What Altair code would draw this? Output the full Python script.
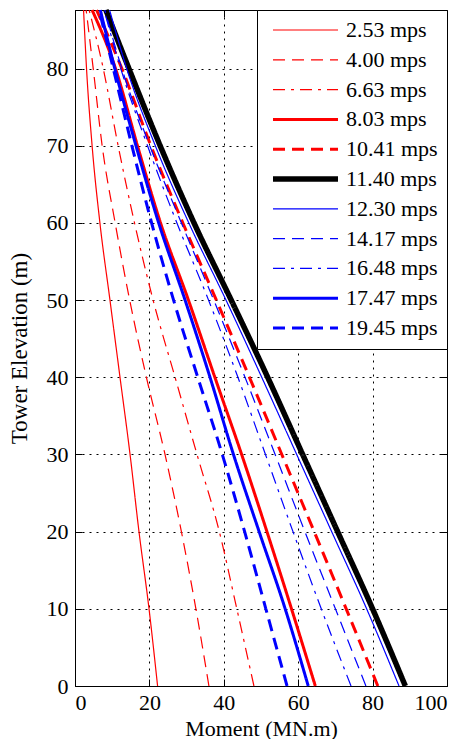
import altair as alt
import pandas as pd

# Tower elevation (m) at which moments were read
elevation = [0, 10, 20, 30, 40, 50, 60, 70, 80, 87.6]

labels = ["2.53 mps", "4.00 mps", "6.63 mps", "8.03 mps", "10.41 mps", "11.40 mps",
          "12.30 mps", "14.17 mps", "16.48 mps", "17.47 mps", "19.45 mps"]

# Moment (MN.m) for each wind speed, at the elevations above
m_2_53 = [22.2, 19.9, 17.2, 14.8, 12.1, 9.4, 6.7, 4.6, 3.1, 2.3]
m_4_00 = [36.0, 32.5, 28.6, 24.2, 19.2, 14.7, 10.8, 7.3, 4.9, 3.0]
m_6_63 = [48.1, 43.5, 38.8, 32.8, 26.9, 21.0, 16.0, 11.6, 7.6, 3.8]
m_8_03 = [64.6, 58.2, 51.6, 44.8, 37.6, 30.5, 23.0, 16.8, 10.9, 4.6]
m_10_41 = [81.4, 72.9, 64.3, 55.6, 46.9, 38.0, 29.0, 20.4, 12.6, 5.8]
m_11_40 = [88.8, 80.0, 70.6, 61.2, 51.8, 42.0, 32.0, 22.9, 14.5, 8.3]
m_12_30 = [87.1, 78.4, 69.0, 59.6, 50.2, 40.6, 30.6, 21.6, 13.9, 9.3]
m_14_17 = [78.2, 70.0, 61.8, 53.8, 45.7, 37.3, 28.6, 20.1, 12.6, 8.0]
m_16_48 = [74.2, 66.2, 58.6, 51.2, 43.8, 35.9, 27.4, 19.5, 12.3, 7.8]
m_17_47 = [62.7, 56.5, 49.5, 42.6, 36.3, 29.6, 22.5, 16.4, 10.7, 6.8]
m_19_45 = [57.0, 51.3, 45.6, 39.6, 33.0, 26.5, 20.6, 15.3, 10.3, 6.5]

series = [m_2_53, m_4_00, m_6_63, m_8_03, m_10_41, m_11_40,
          m_12_30, m_14_17, m_16_48, m_17_47, m_19_45]

colors = ["#ff0000"] * 5 + ["#000000"] + ["#0000ff"] * 5
dashes = [[1, 0], [12, 7], [12, 6, 3, 6], [1, 0], [12, 7], [1, 0],
          [1, 0], [12, 7], [12, 6, 3, 6], [1, 0], [12, 7]]
widths = [1.2, 1.2, 1.2, 3, 3, 5.5, 1.2, 1.2, 1.2, 3, 3]

x_ticks = [0, 20, 40, 60, 80, 100]
y_ticks = [0, 10, 20, 30, 40, 50, 60, 70, 80]

rows = []
for lab, vals in zip(labels, series):
    for e, v in zip(elevation, vals):
        rows.append({"label": lab, "elev": e, "moment": v})
df = pd.DataFrame(rows)

FONT = "Liberation Serif"

legend = alt.Legend(
    title=None, orient="top-right", offset=0, symbolType="stroke",
    symbolSize=4225, clipHeight=22, rowPadding=7.8, padding=9,
    symbolOffset=4, labelOffset=5, labelFont=FONT, labelFontSize=22,
    labelColor="black", fillColor="white", strokeColor="black",
    labelLimit=300,
)

xscale = alt.Scale(domain=[0, 100], nice=False)
yscale = alt.Scale(domain=[0, 87.6], nice=False)

lines = alt.Chart(df).mark_line(interpolate="monotone").encode(
    x=alt.X("moment:Q", scale=xscale, axis=alt.Axis(
        orient="bottom", values=x_ticks, title="Moment (MN.m)", grid=True,
        offset=-7, tickSize=7, domain=False, labelPadding=6,
        titleFontSize=22, titleBaseline="alphabetic", titleY=56)),
    y=alt.Y("elev:Q", scale=yscale, axis=alt.Axis(
        orient="left", values=y_ticks, title="Tower Elevation (m)", grid=True,
        offset=-7, tickSize=7, domain=False, labelPadding=7, titlePadding=15)),
    color=alt.Color("label:N", scale=alt.Scale(domain=labels, range=colors), legend=legend),
    strokeDash=alt.StrokeDash("label:N", scale=alt.Scale(domain=labels, range=dashes), legend=legend),
    strokeWidth=alt.StrokeWidth("label:N", scale=alt.Scale(type="ordinal", domain=labels, range=widths), legend=legend),
    order=alt.Order("elev:Q"),
)

frame = alt.Chart(df).mark_point(opacity=0).encode(
    x=alt.X("moment:Q", scale=xscale, axis=alt.Axis(
        orient="top", values=x_ticks, title=None, labels=False, grid=False,
        offset=-7, tickSize=7, domain=False)),
    y=alt.Y("elev:Q", scale=yscale, axis=alt.Axis(
        orient="right", values=y_ticks, title=None, labels=False, grid=False,
        offset=-7, tickSize=7, domain=False)),
)

chart = alt.layer(lines, frame).resolve_axis(x="independent", y="independent").properties(
    width=372, height=676,
    autosize=alt.AutoSizeParams(type="none"),
    padding={"left": 67, "top": 2, "right": 8, "bottom": 53},
).configure_view(
    stroke="black", strokeWidth=1
).configure_axis(
    labelFont=FONT, labelFontSize=22, labelColor="black",
    titleFont=FONT, titleFontSize=23, titleColor="black", titleFontWeight="normal",
    tickColor="black", tickWidth=1,
    gridColor="black", gridOpacity=1, gridDash=[2, 5], gridWidth=1,
)

chart.save("out.html", embed_options={"renderer": "svg", "actions": False})
